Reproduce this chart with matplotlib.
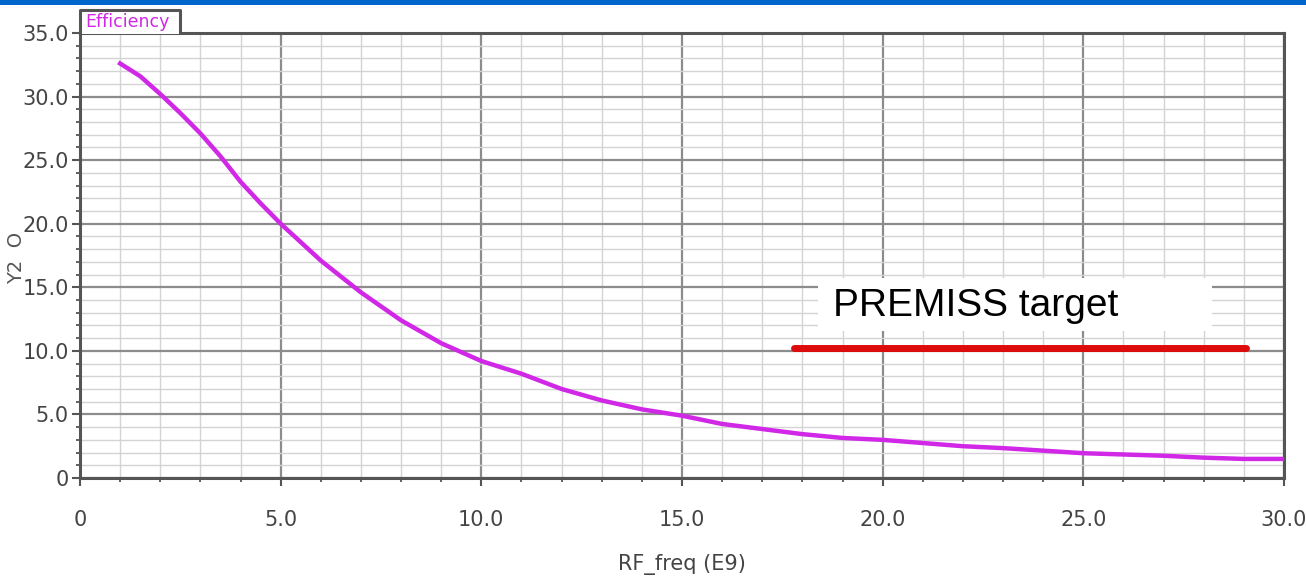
import matplotlib
matplotlib.use("Agg")
import matplotlib.pyplot as plt
from matplotlib.ticker import MultipleLocator, FuncFormatter
from matplotlib.patches import Rectangle
from matplotlib.lines import Line2D

# data
rf_freq = [1, 1.5, 2, 2.5, 3, 3.5, 4, 4.5, 5, 6, 7, 8, 9, 10, 11, 12, 13, 14, 15,
           16, 17, 18, 19, 20, 21, 22, 23, 24, 25, 26, 27, 28, 29, 30]
efficiency = [32.6, 31.6, 30.2, 28.7, 27.1, 25.3, 23.3, 21.6, 20.0, 17.1, 14.6,
              12.4, 10.6, 9.2, 8.2, 7.0, 6.1, 5.4, 4.9, 4.25, 3.85, 3.45, 3.15,
              3.0, 2.75, 2.5, 2.35, 2.15, 1.95, 1.85, 1.75, 1.6, 1.5, 1.5]
target_x = [17.8, 29.05]
target_y = [10.2, 10.2]
target_label = "PREMISS target"

gray = '#555555'
label_gray = '#444444'

fig = plt.figure(figsize=(13.06, 5.82), dpi=100)
fig.patch.set_facecolor('white')
# blue strip on top
fig.add_artist(Rectangle((0, 1 - 5 / 582), 1, 5 / 582, transform=fig.transFigure,
                         facecolor='#0066cc', edgecolor='none'))

ax = fig.add_axes([80 / 1306, 1 - 478 / 582, 1204 / 1306, 445 / 582])
ax.set_xlim(0, 30)
ax.set_ylim(0, 35)

ax.xaxis.set_major_locator(MultipleLocator(5))
ax.xaxis.set_minor_locator(MultipleLocator(1))
ax.yaxis.set_major_locator(MultipleLocator(5))
ax.yaxis.set_minor_locator(MultipleLocator(1))
fmt = FuncFormatter(lambda v, p: '0' if v == 0 else f'{v:.1f}')
ax.xaxis.set_major_formatter(fmt)
ax.yaxis.set_major_formatter(fmt)

ax.grid(which='major', color='#8c8c8c', linewidth=1.6, zorder=0)
ax.grid(which='minor', color='#d4d4d4', linewidth=1.0, zorder=0)
ax.set_axisbelow(True)

for s in ax.spines.values():
    s.set_color(gray)
    s.set_linewidth(2.2)

ax.tick_params(which='major', direction='out', length=6, width=1.5, color=gray,
               labelcolor=label_gray, labelsize=15, pad=2)
ax.tick_params(which='minor', direction='out', length=3, width=1.3, color=gray)
ax.tick_params(axis='x', pad=17)

ax.plot(rf_freq, efficiency, color='#d028e6', linewidth=3.2, zorder=3)

# target line and label
ax.add_patch(Rectangle((18.4, 11.6), 9.8, 4.1, facecolor='white', edgecolor='none', zorder=2))
ax.text(18.77, 12.75, target_label, fontsize=28, family='Liberation Sans', color='black',
        zorder=4)
ax.plot(target_x, target_y, color='#dd0b0b', linewidth=5, solid_capstyle='round', zorder=4)

ax.set_xlabel('RF_freq (E9)', fontsize=15, color=label_gray, labelpad=17)
fig.text(0.013, 0.557, 'Y2  O', rotation=90, ha='center', va='center',
         fontsize=14, color=gray)

# legend tab above the frame
x0, x1 = 0.0, 100 / 1204
ytop = 1 + 23 / 445
ax.add_patch(Rectangle((x0, 1 - 0.003), x1 - x0, ytop - 1 + 0.003, transform=ax.transAxes,
                       facecolor='white', edgecolor='none', clip_on=False, zorder=5))
ax.add_line(Line2D([x0, x0, x1, x1], [1, ytop, ytop, 1], transform=ax.transAxes,
                   color=gray, linewidth=2.2, clip_on=False, zorder=6))
ax.text(0.004, 1 + 11 / 445, 'Efficiency', transform=ax.transAxes, va='center', ha='left',
        fontsize=12.5, color='#d028e6', clip_on=False, zorder=7)

plt.savefig('out.png', dpi=100)
